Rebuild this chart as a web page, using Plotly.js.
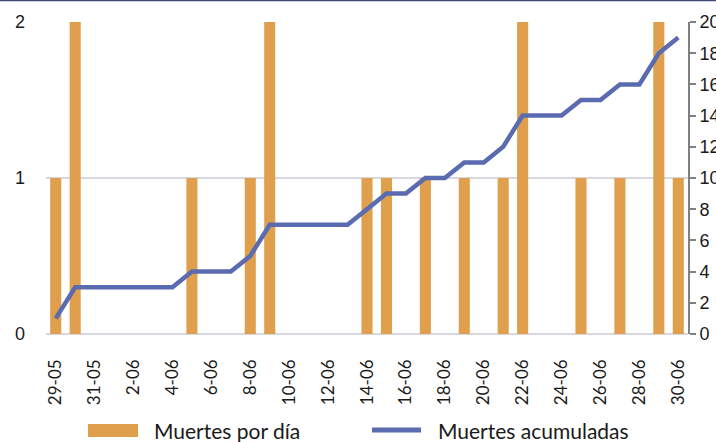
<!DOCTYPE html>
<html>
<head>
<meta charset="utf-8">
<script src="https://cdn.plot.ly/plotly-3.0.1.min.js"></script>
<style>html,body{margin:0;padding:0;background:#fff;}#chart{width:716px;height:442px;}</style>
</head>
<body>
<div id="chart"></div>
<script>
const fechas = ["29-05","30-05","31-05","1-06","2-06","3-06","4-06","5-06","6-06","7-06","8-06","9-06","10-06","11-06","12-06","13-06","14-06","15-06","16-06","17-06","18-06","19-06","20-06","21-06","22-06","23-06","24-06","25-06","26-06","27-06","28-06","29-06","30-06"];
const muertesPorDia = [1,2,0,0,0,0,0,1,0,0,1,2,0,0,0,0,1,1,0,1,0,1,0,1,2,0,0,1,0,1,0,2,1];
const muertesAcumuladas = [1,3,3,3,3,3,3,4,4,4,5,7,7,7,7,7,8,9,9,10,10,11,11,12,14,14,14,15,15,16,16,18,19];
const tickFechas = ["29-05","31-05","2-06","4-06","6-06","8-06","10-06","12-06","14-06","16-06","18-06","20-06","22-06","24-06","26-06","28-06","30-06"];
const nombreBarras = "Muertes por día";
const nombreLinea = "Muertes acumuladas";

const colBar = "#E09F4D";
const colLine = "#5A6BB0";

const traces = [
  {type:"bar", x:fechas, y:muertesPorDia, name:nombreBarras, marker:{color:colBar}, yaxis:"y", hoverinfo:"skip"},
  {type:"scatter", mode:"lines", x:fechas, y:muertesAcumuladas, name:nombreLinea, line:{color:colLine, width:4.5}, yaxis:"y2", hoverinfo:"skip"}
];

const layout = {
  width:716, height:442,
  margin:{l:46, r:28, t:22, b:108},
  paper_bgcolor:"#fff", plot_bgcolor:"#fff",
  showlegend:false,
  bargap:0.43,
  xaxis:{type:"category", tickmode:"array", tickvals:tickFechas, ticktext:tickFechas, tickangle:-90,
    showgrid:false, showline:false, ticks:"", ticklabelstandoff:21,
    tickfont:{family:"Lato", size:17, color:"#1a1a1a"}},
  yaxis:{range:[0,2], tickvals:[0,1,2], showgrid:true, gridcolor:"#D8D8E2", gridwidth:2,
    zeroline:true, zerolinecolor:"#D8D8E2", zerolinewidth:2, showline:false, ticks:"",
    ticklabelstandoff:20, tickfont:{family:"Liberation Sans", size:18, color:"#1a1a1a"}},
  yaxis2:{range:[0,20], tickvals:[0,2,4,6,8,10,12,14,16,18,20], overlaying:"y", side:"right",
    showgrid:false, zeroline:false, showline:true, linecolor:"#808080", linewidth:2,
    ticks:"outside", ticklen:6, tickwidth:2, tickcolor:"#808080",
    tickfont:{family:"Liberation Sans", size:18, color:"#1a1a1a"}},
  shapes:[
    {type:"line", xref:"paper", yref:"paper", ysizemode:"pixel", yanchor:1, x0:-0.08, x1:1.05, y0:21.5, y1:21.5, line:{color:"#3C4B78", width:1.5}},
    {type:"rect", xref:"paper", yref:"paper", xsizemode:"pixel", ysizemode:"pixel", xanchor:0, yanchor:0,
      x0:42, x1:92, y0:-90, y1:-103, fillcolor:colBar, line:{width:0}},
    {type:"line", xref:"paper", yref:"paper", xsizemode:"pixel", ysizemode:"pixel", xanchor:0, yanchor:0,
      x0:326, x1:375, y0:-96, y1:-96, line:{color:colLine, width:5}}
  ],
  annotations:[
    {text:nombreBarras, xref:"paper", yref:"paper", x:(152-46)/642, y:-(430-334)/312, xanchor:"left", yanchor:"middle", showarrow:false,
      font:{family:"Lato", size:21, color:"#1a1a1a"}},
    {text:nombreLinea, xref:"paper", yref:"paper", x:(436-46)/642, y:-(430-334)/312, xanchor:"left", yanchor:"middle", showarrow:false,
      font:{family:"Lato", size:21, color:"#1a1a1a"}}
  ]
};

Plotly.newPlot("chart", traces, layout, {staticPlot:true, displayModeBar:false});
</script>
</body>
</html>
